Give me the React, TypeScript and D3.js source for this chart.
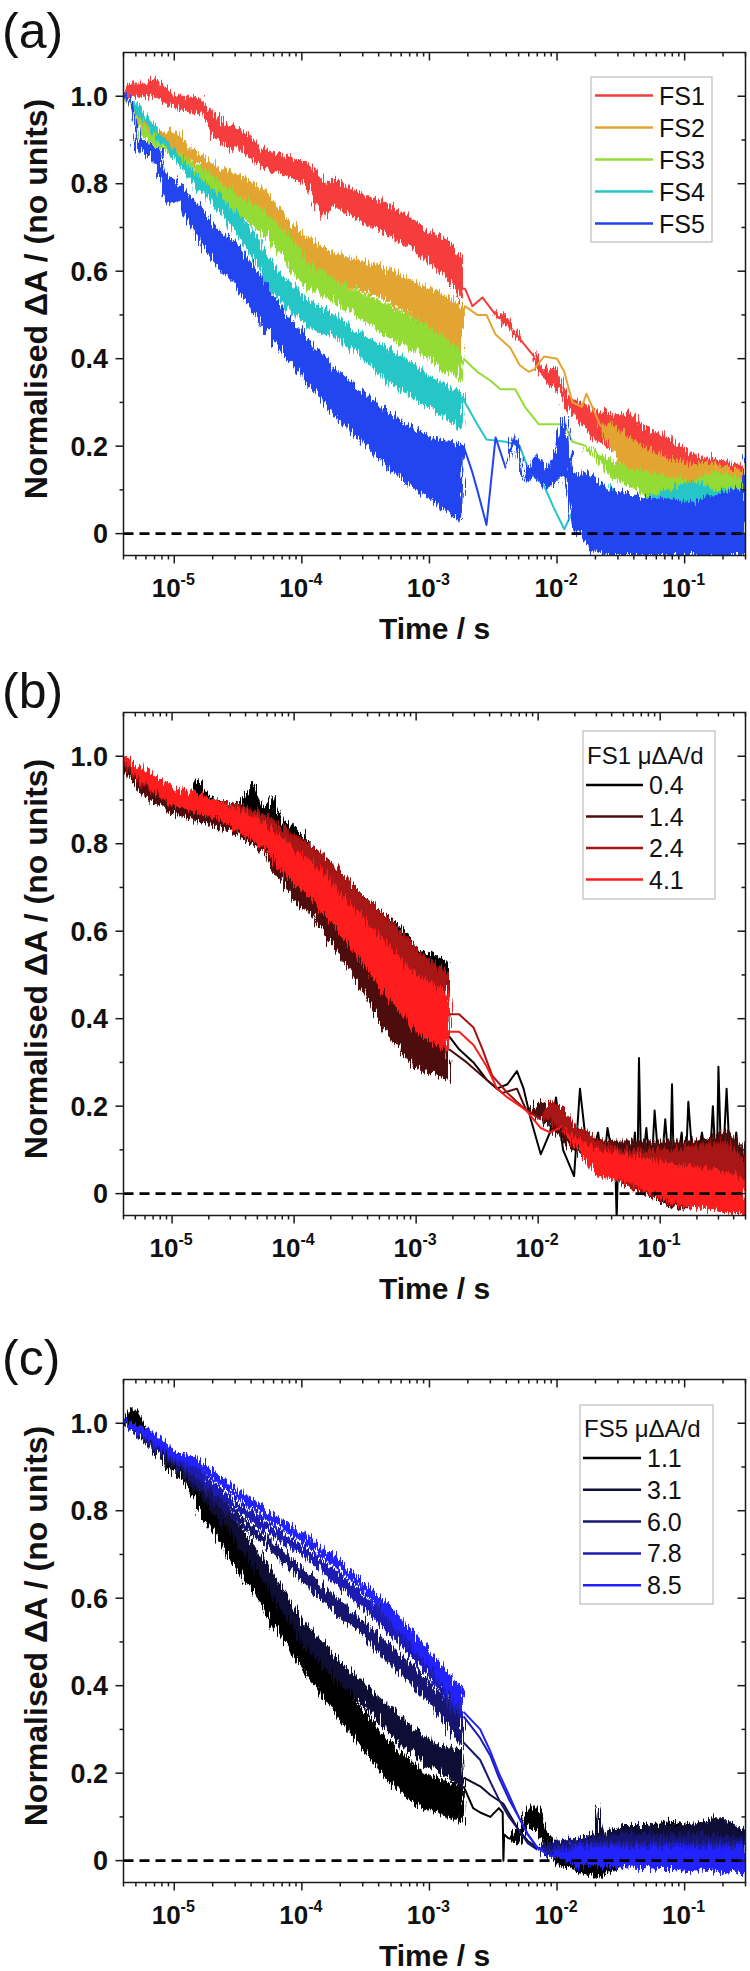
import React from 'react';
import * as d3 from 'd3';

type P = [number, number, number]; // [time (s), low value, high value]

// ---------------- Panel (a) ----------------
const A_NAMES = ['FS1', 'FS2', 'FS3', 'FS4', 'FS5'];
const A_COLORS = ['#f53c3c', '#e2a532', '#94dc36', '#27c6c6', '#2244f0'];
const A_FS1: P[] = [
  [4e-6, 1.0, 1.0], [4.6e-6, 1.0, 1.03], [5.7e-6, 1.0, 1.03], [7.4e-6, 1.0, 1.04], [8.8e-6, 0.98, 1.01],
  [1e-5, 0.98, 1.0], [1.35e-5, 0.96, 1.0], [1.7e-5, 0.96, 0.99], [2.0e-5, 0.91, 0.96], [2.7e-5, 0.88, 0.93],
  [3.2e-5, 0.88, 0.93], [4.9e-5, 0.84, 0.88], [7.6e-5, 0.82, 0.86], [1.07e-4, 0.8, 0.85], [1.5e-4, 0.72, 0.8],
  [1.8e-4, 0.75, 0.81], [2.75e-4, 0.72, 0.78], [4.2e-4, 0.69, 0.76], [6.5e-4, 0.66, 0.73], [1e-3, 0.62, 0.69],
  [1.41e-3, 0.58, 0.67], [1.78e-3, 0.53, 0.63], [1.8e-3, 0.56, 0.56], [1.9e-3, 0.56, 0.56], [2.17e-3, 0.52, 0.52],
  [2.6e-3, 0.54, 0.54], [3.3e-3, 0.5, 0.5], [3.96e-3, 0.48, 0.5], [5.1e-3, 0.44, 0.45], [6.6e-3, 0.4, 0.41],
  [8.6e-3, 0.34, 0.37], [1e-2, 0.33, 0.38], [1.2e-2, 0.29, 0.31], [1.57e-2, 0.25, 0.3], [1.87e-2, 0.22, 0.28],
  [2.2e-2, 0.21, 0.28], [3.1e-2, 0.18, 0.27], [3.7e-2, 0.16, 0.28], [4.8e-2, 0.13, 0.24], [7.4e-2, 0.1, 0.22],
  [0.114, 0.06, 0.18], [0.175, 0.03, 0.17], [0.245, 0.03, 0.16], [0.3, 0.05, 0.15],
];
const A_FS2: P[] = [
  [4e-6, 1.0, 1.0], [4.6e-6, 0.96, 0.99], [5.7e-6, 0.92, 0.95], [7.4e-6, 0.89, 0.92], [1e-5, 0.88, 0.92],
  [1.35e-5, 0.85, 0.88], [1.5e-5, 0.85, 0.87], [2.08e-5, 0.8, 0.84], [3.2e-5, 0.77, 0.82], [4.9e-5, 0.73, 0.79],
  [7.6e-5, 0.65, 0.72], [1.07e-4, 0.62, 0.68], [1.8e-4, 0.58, 0.64], [4.2e-4, 0.54, 0.61], [1e-3, 0.47, 0.56],
  [1.41e-3, 0.44, 0.54], [1.78e-3, 0.42, 0.52], [1.85e-3, 0.51, 0.51], [1.9e-3, 0.52, 0.52], [2.37e-3, 0.5, 0.5],
  [2.8e-3, 0.5, 0.5], [3.3e-3, 0.45, 0.46], [4.3e-3, 0.42, 0.43], [5.1e-3, 0.38, 0.39], [6.0e-3, 0.37, 0.37],
  [6.6e-3, 0.37, 0.38], [7.9e-3, 0.4, 0.41], [1e-2, 0.4, 0.4], [1.14e-2, 0.37, 0.37], [1.32e-2, 0.3, 0.3],
  [1.57e-2, 0.29, 0.29], [1.7e-2, 0.32, 0.32], [2.2e-2, 0.24, 0.25], [2.6e-2, 0.2, 0.25], [3.7e-2, 0.12, 0.22],
  [4.8e-2, 0.1, 0.2], [7.4e-2, 0.06, 0.17], [0.114, 0.05, 0.16], [0.16, 0.07, 0.16], [0.3, 0.04, 0.14],
];
const A_FS3: P[] = [
  [4e-6, 1.0, 1.0], [5.7e-6, 0.91, 0.93], [7.4e-6, 0.88, 0.9], [1e-5, 0.86, 0.88], [1.35e-5, 0.82, 0.85],
  [2.08e-5, 0.77, 0.81], [3.2e-5, 0.73, 0.77], [4.9e-5, 0.69, 0.74], [7.6e-5, 0.62, 0.69], [1e-4, 0.57, 0.63],
  [1.8e-4, 0.53, 0.58], [4.2e-4, 0.46, 0.53], [1e-3, 0.4, 0.47], [1.78e-3, 0.35, 0.42], [1.85e-3, 0.4, 0.4],
  [2.37e-3, 0.37, 0.37], [3.0e-3, 0.35, 0.35], [3.6e-3, 0.33, 0.33], [4.7e-3, 0.33, 0.33], [5.6e-3, 0.29, 0.29],
  [7.2e-3, 0.25, 0.25], [9.4e-3, 0.25, 0.25], [1.14e-2, 0.25, 0.25], [1.32e-2, 0.21, 0.21], [1.7e-2, 0.2, 0.2],
  [2.2e-2, 0.16, 0.18], [2.6e-2, 0.13, 0.17], [3.7e-2, 0.11, 0.15], [5.5e-2, 0.08, 0.14], [7.4e-2, 0.05, 0.13],
  [0.114, 0.03, 0.12], [0.175, 0.02, 0.14], [0.3, 0.0, 0.12],
];
const A_FS4: P[] = [
  [4e-6, 1.0, 1.0], [5.2e-6, 0.96, 0.98], [7.4e-6, 0.9, 0.92], [1e-5, 0.86, 0.88], [1.35e-5, 0.81, 0.83],
  [2.08e-5, 0.75, 0.78], [3.2e-5, 0.68, 0.73], [4.5e-5, 0.62, 0.68], [4.9e-5, 0.58, 0.65], [7.6e-5, 0.52, 0.58],
  [1.15e-4, 0.47, 0.53], [1.8e-4, 0.45, 0.5], [2.75e-4, 0.41, 0.46], [4.2e-4, 0.36, 0.43], [6.5e-4, 0.32, 0.4],
  [1e-3, 0.29, 0.36], [1.78e-3, 0.24, 0.32], [1.85e-3, 0.31, 0.31], [1.9e-3, 0.3, 0.3], [2.17e-3, 0.27, 0.27],
  [2.37e-3, 0.25, 0.25], [2.8e-3, 0.21, 0.22], [3.96e-3, 0.21, 0.21], [5.1e-3, 0.2, 0.2], [6.1e-3, 0.14, 0.14],
  [7.9e-3, 0.11, 0.11], [9.4e-3, 0.06, 0.06], [1.14e-2, 0.01, 0.01], [1.32e-2, 0.05, 0.05], [1.57e-2, 0.1, 0.1],
  [1.87e-2, 0.13, 0.13], [2.2e-2, 0.08, 0.08], [2.6e-2, 0.08, 0.11], [3.1e-2, 0.0, 0.08], [4.8e-2, -0.04, 0.08],
  [7.4e-2, -0.02, 0.1], [0.114, -0.05, 0.12], [0.175, -0.03, 0.1], [0.3, -0.05, 0.1],
];
const A_FS5: P[] = [
  [4e-6, 1.0, 1.0], [4.6e-6, 0.97, 0.99], [5.2e-6, 0.87, 0.9], [5.7e-6, 0.88, 0.9], [7.4e-6, 0.84, 0.88],
  [8.8e-6, 0.75, 0.82], [1.1e-5, 0.76, 0.8], [1.35e-5, 0.7, 0.77], [2.08e-5, 0.62, 0.7], [3.2e-5, 0.56, 0.66],
  [4.9e-5, 0.48, 0.58], [7.6e-5, 0.4, 0.5], [1.15e-4, 0.34, 0.44], [1.8e-4, 0.27, 0.38], [2.75e-4, 0.22, 0.33],
  [4.2e-4, 0.17, 0.29], [6.5e-4, 0.12, 0.25], [1e-3, 0.08, 0.22], [1.5e-3, 0.04, 0.21], [1.78e-3, 0.03, 0.2],
  [1.85e-3, 0.2, 0.2], [2.17e-3, 0.14, 0.14], [2.37e-3, 0.1, 0.1], [2.8e-3, 0.02, 0.02], [3.3e-3, 0.22, 0.22],
  [3.96e-3, 0.15, 0.15], [4.7e-3, 0.21, 0.24], [5.6e-3, 0.12, 0.12], [6.6e-3, 0.13, 0.18], [8.6e-3, 0.1, 0.15],
  [1.14e-2, 0.14, 0.27], [1.32e-2, 0.02, 0.14], [1.87e-2, -0.04, 0.13], [2.6e-2, -0.05, 0.1], [4.8e-2, -0.05, 0.08],
  [7.4e-2, -0.05, 0.08], [0.114, -0.05, 0.07], [0.175, -0.05, 0.09], [0.28, -0.05, 0.1], [0.3, -0.05, 0.2],
];
const A_SERIES = [A_FS1, A_FS2, A_FS3, A_FS4, A_FS5];

// ---------------- Panel (b) ----------------
const B_TITLE = 'FS1 μΔA/d';
const B_NAMES = ['0.4', '1.4', '2.4', '4.1'];
const B_COLORS = ['#000000', '#4e0b0b', '#a81212', '#ff1c1c'];
const B_04: P[] = [
  [4e-6, 0.97, 0.99], [5.8e-6, 0.92, 0.95], [1e-5, 0.88, 0.91], [1.4e-5, 0.88, 0.91], [1.57e-5, 0.88, 0.95],
  [1.9e-5, 0.88, 0.92], [2.25e-5, 0.86, 0.9], [3.5e-5, 0.84, 0.89], [4.6e-5, 0.84, 0.94], [5.6e-5, 0.82, 0.87],
  [6.7e-5, 0.81, 0.91], [8e-5, 0.78, 0.85], [1e-4, 0.74, 0.84], [1.37e-4, 0.71, 0.8], [2.15e-4, 0.65, 0.75],
  [3.4e-4, 0.59, 0.69], [5.3e-4, 0.52, 0.64], [8.3e-4, 0.45, 0.6], [1e-3, 0.43, 0.56], [1.83e-3, 0.37, 0.53],
  [1.86e-3, 0.36, 0.36], [2.25e-3, 0.33, 0.33], [2.95e-3, 0.3, 0.3], [3.8e-3, 0.26, 0.26], [4.6e-3, 0.24, 0.24],
  [5.6e-3, 0.25, 0.25], [6.7e-3, 0.28, 0.28], [7.6e-3, 0.24, 0.24], [8.7e-3, 0.17, 0.17], [1.05e-2, 0.09, 0.09],
  [1.25e-2, 0.14, 0.14], [1.4e-2, 0.22, 0.22], [1.6e-2, 0.1, 0.1], [1.97e-2, 0.04, 0.04], [2.2e-2, 0.24, 0.24],
  [2.6e-2, 0.06, 0.06], [3.1e-2, 0.14, 0.14], [3.4e-2, 0.05, 0.05], [3.7e-2, 0.15, 0.15], [4.3e-2, 0.05, 0.05],
  [4.4e-2, -0.06, -0.06], [4.5e-2, 0.06, 0.06], [5.2e-2, 0.1, 0.1], [5.8e-2, 0.03, 0.03], [6.2e-2, 0.14, 0.14],
  [6.5e-2, 0.03, 0.03], [6.7e-2, 0.31, 0.31], [7.0e-2, 0.04, 0.04], [7.7e-2, 0.15, 0.15], [8.4e-2, 0.03, 0.03],
  [9.0e-2, 0.19, 0.19], [0.1, 0.02, 0.02], [0.11, 0.17, 0.17], [0.12, 0.03, 0.03], [0.125, 0.25, 0.25],
  [0.13, 0.02, 0.02], [0.15, 0.14, 0.14], [0.16, 0.02, 0.02], [0.17, 0.21, 0.21], [0.19, 0.03, 0.03],
  [0.22, 0.14, 0.14], [0.25, 0.02, 0.02], [0.27, 0.2, 0.2], [0.29, 0.03, 0.03], [0.3, 0.29, 0.29],
  [0.32, 0.02, 0.02], [0.35, 0.24, 0.24], [0.38, 0.02, 0.02], [0.42, 0.14, 0.14], [0.46, 0.01, 0.01],
  [0.5, 0.12, 0.12],
];
const B_14: P[] = [
  [4e-6, 0.97, 1.0], [5.8e-6, 0.91, 0.95], [1e-5, 0.87, 0.91], [2.25e-5, 0.84, 0.88], [3.5e-5, 0.82, 0.87],
  [5.6e-5, 0.78, 0.84], [1e-4, 0.67, 0.77], [1.37e-4, 0.64, 0.74], [2.15e-4, 0.56, 0.67], [3.4e-4, 0.48, 0.6],
  [5.3e-4, 0.38, 0.5], [8.3e-4, 0.31, 0.45], [1e-3, 0.29, 0.43], [1.83e-3, 0.26, 0.4], [1.86e-3, 0.33, 0.33],
  [2.6e-3, 0.3, 0.3], [3.8e-3, 0.26, 0.26], [5.1e-3, 0.23, 0.23], [6.7e-3, 0.24, 0.24], [8e-3, 0.19, 0.19],
  [1.05e-2, 0.17, 0.21], [1.4e-2, 0.14, 0.2], [1.97e-2, 0.1, 0.14], [3.1e-2, 0.05, 0.12], [4.9e-2, 0.03, 0.12],
  [7.7e-2, 0.0, 0.12], [0.12, -0.03, 0.12], [0.2, -0.03, 0.12], [0.35, -0.04, 0.14], [0.5, -0.05, 0.1],
];
const B_24: P[] = [
  [4e-6, 0.98, 1.0], [5.8e-6, 0.93, 0.97], [1e-5, 0.89, 0.92], [2.25e-5, 0.86, 0.9], [3.5e-5, 0.84, 0.89],
  [5.6e-5, 0.81, 0.87], [1e-4, 0.74, 0.82], [1.37e-4, 0.72, 0.8], [2.15e-4, 0.66, 0.75], [3.4e-4, 0.6, 0.69],
  [5.3e-4, 0.54, 0.64], [8.3e-4, 0.49, 0.59], [1e-3, 0.46, 0.56], [1.83e-3, 0.4, 0.5], [1.86e-3, 0.41, 0.41],
  [2.25e-3, 0.41, 0.41], [2.95e-3, 0.38, 0.38], [3.5e-3, 0.33, 0.33], [4.2e-3, 0.27, 0.27], [5.6e-3, 0.23, 0.23],
  [8e-3, 0.19, 0.19], [1.05e-2, 0.17, 0.17], [1.25e-2, 0.17, 0.21], [1.5e-2, 0.15, 0.2], [1.97e-2, 0.12, 0.16],
  [3.1e-2, 0.06, 0.12], [4.9e-2, 0.02, 0.1], [7.7e-2, 0.0, 0.1], [0.12, -0.02, 0.1], [0.2, -0.03, 0.11],
  [0.35, -0.04, 0.12], [0.5, -0.05, 0.08],
];
const B_41: P[] = [
  [4e-6, 0.99, 1.0], [5.8e-6, 0.94, 0.97], [1e-5, 0.89, 0.93], [2.25e-5, 0.86, 0.9], [3.5e-5, 0.83, 0.88],
  [5.6e-5, 0.79, 0.85], [1e-4, 0.71, 0.79], [1.37e-4, 0.68, 0.76], [2.15e-4, 0.61, 0.7], [3.4e-4, 0.54, 0.64],
  [5.3e-4, 0.46, 0.58], [8.3e-4, 0.4, 0.52], [1e-3, 0.37, 0.5], [1.83e-3, 0.32, 0.46], [1.86e-3, 0.37, 0.37],
  [2.25e-3, 0.37, 0.37], [2.95e-3, 0.34, 0.34], [3.8e-3, 0.29, 0.29], [4.6e-3, 0.24, 0.24], [5.6e-3, 0.22, 0.22],
  [8e-3, 0.19, 0.19], [1.05e-2, 0.15, 0.15], [1.25e-2, 0.14, 0.14], [1.5e-2, 0.15, 0.15], [1.97e-2, 0.11, 0.13],
  [3.1e-2, 0.04, 0.1], [4.9e-2, 0.03, 0.09], [7.7e-2, 0.01, 0.08], [0.12, -0.02, 0.07], [0.2, -0.03, 0.06],
  [0.35, -0.04, 0.05], [0.5, -0.05, 0.03],
];
const B_SERIES = [B_04, B_14, B_24, B_41];

// ---------------- Panel (c) ----------------
const C_TITLE = 'FS5 μΔA/d';
const C_NAMES = ['1.1', '3.1', '6.0', '7.8', '8.5'];
const C_COLORS = ['#000000', '#0c0c34', '#17176f', '#1e1eb2', '#2121ff'];
const C_11: P[] = [
  [4e-6, 0.99, 1.0], [4.6e-6, 1.0, 1.03], [5.0e-6, 0.99, 1.03], [6.2e-6, 0.96, 0.98], [8.1e-6, 0.92, 0.94],
  [9.2e-6, 0.89, 0.94], [1e-5, 0.89, 0.93], [1.47e-5, 0.83, 0.88], [1.6e-5, 0.79, 0.86], [2.25e-5, 0.73, 0.8],
  [3.5e-5, 0.64, 0.72], [4.5e-5, 0.6, 0.67], [5.3e-5, 0.56, 0.66], [8.2e-5, 0.48, 0.56], [1e-4, 0.44, 0.53],
  [1.9e-4, 0.33, 0.42], [2.95e-4, 0.26, 0.35], [4.5e-4, 0.19, 0.28], [7e-4, 0.14, 0.23], [1.07e-3, 0.11, 0.19],
  [1.8e-3, 0.09, 0.17], [1.85e-3, 0.17, 0.17], [2.2e-3, 0.12, 0.12], [2.5e-3, 0.11, 0.11], [3.0e-3, 0.1, 0.1],
  [3.5e-3, 0.12, 0.12], [3.75e-3, 0.11, 0.11], [3.8e-3, 0.0, 0.0], [3.85e-3, 0.06, 0.06], [4.2e-3, 0.05, 0.05],
  [5e-3, 0.04, 0.07], [5.9e-3, 0.08, 0.12], [7e-3, 0.07, 0.12], [8.3e-3, 0.03, 0.07], [9.9e-3, -0.01, 0.04],
  [1.4e-2, -0.02, 0.04], [2.1e-2, -0.04, 0.04], [3.3e-2, -0.01, 0.07], [5e-2, -0.01, 0.08], [7.7e-2, -0.01, 0.09],
  [0.12, -0.02, 0.08], [0.18, -0.02, 0.07], [0.3, -0.02, 0.05],
];
const C_31: P[] = [
  [4e-6, 1.0, 1.01], [6.2e-6, 0.95, 0.97], [1e-5, 0.89, 0.91], [1.47e-5, 0.85, 0.88], [2.25e-5, 0.78, 0.82],
  [3.5e-5, 0.71, 0.75], [5.3e-5, 0.63, 0.68], [8.2e-5, 0.54, 0.59], [1e-4, 0.5, 0.55], [1.9e-4, 0.41, 0.46],
  [2.95e-4, 0.36, 0.41], [4.5e-4, 0.3, 0.36], [7e-4, 0.25, 0.31], [1.07e-3, 0.21, 0.27], [1.8e-3, 0.17, 0.25],
  [1.85e-3, 0.19, 0.19], [2.5e-3, 0.17, 0.17], [3e-3, 0.15, 0.15], [3.8e-3, 0.13, 0.13], [5e-3, 0.07, 0.07],
  [5.9e-3, 0.045, 0.045], [7e-3, 0.03, 0.03], [8.3e-3, 0.02, 0.04], [1.4e-2, 0.02, 0.05], [2.0e-2, 0.02, 0.06],
  [2.1e-2, 0.02, 0.13], [2.3e-2, 0.02, 0.06], [3.3e-2, 0.02, 0.08], [5e-2, 0.01, 0.08], [7.7e-2, 0.01, 0.08],
  [0.12, 0.0, 0.08], [0.18, 0.0, 0.1], [0.3, 0.0, 0.07],
];
const C_60: P[] = [
  [4e-6, 1.0, 1.0], [6.2e-6, 0.955, 0.975], [1e-5, 0.9, 0.92], [1.47e-5, 0.86, 0.88], [2.25e-5, 0.81, 0.83],
  [3.5e-5, 0.76, 0.78], [5.3e-5, 0.72, 0.74], [1e-4, 0.64, 0.67], [1.9e-4, 0.56, 0.6], [2.95e-4, 0.52, 0.55],
  [4.5e-4, 0.46, 0.5], [7e-4, 0.41, 0.45], [1.07e-3, 0.35, 0.4], [1.8e-3, 0.26, 0.32], [1.85e-3, 0.27, 0.27],
  [2.5e-3, 0.23, 0.23], [3.0e-3, 0.18, 0.18], [3.5e-3, 0.14, 0.14], [4.2e-3, 0.1, 0.1], [5e-3, 0.07, 0.07],
  [5.9e-3, 0.04, 0.04], [7e-3, 0.025, 0.025], [8.3e-3, 0.01, 0.04], [1.4e-2, 0.01, 0.05], [3.3e-2, 0.01, 0.06],
  [0.12, 0.0, 0.06], [0.3, 0.0, 0.05],
];
const C_78: P[] = [
  [4e-6, 1.0, 1.0], [6.2e-6, 0.96, 0.98], [1e-5, 0.91, 0.93], [1.47e-5, 0.88, 0.9], [2.25e-5, 0.83, 0.85],
  [3.5e-5, 0.79, 0.81], [5.3e-5, 0.75, 0.77], [1e-4, 0.7, 0.72], [1.9e-4, 0.63, 0.66], [2.95e-4, 0.58, 0.61],
  [4.5e-4, 0.53, 0.56], [7e-4, 0.47, 0.51], [1.07e-3, 0.41, 0.45], [1.8e-3, 0.32, 0.37], [1.85e-3, 0.33, 0.33],
  [2.5e-3, 0.28, 0.28], [3.0e-3, 0.24, 0.24], [3.5e-3, 0.19, 0.19], [4.2e-3, 0.14, 0.14], [5e-3, 0.1, 0.1],
  [5.9e-3, 0.06, 0.06], [7e-3, 0.03, 0.03], [8.3e-3, 0.025, 0.025], [1.4e-2, 0.0, 0.04], [0.12, 0.0, 0.04],
  [0.3, -0.01, 0.04],
];
const C_85: P[] = [
  [4e-6, 1.0, 1.01], [6.2e-6, 0.965, 0.985], [1e-5, 0.92, 0.94], [1.47e-5, 0.9, 0.92], [2.25e-5, 0.86, 0.88],
  [3.5e-5, 0.82, 0.84], [5.3e-5, 0.78, 0.8], [1e-4, 0.73, 0.75], [1.9e-4, 0.67, 0.69], [2.95e-4, 0.62, 0.64],
  [4.5e-4, 0.56, 0.59], [7e-4, 0.5, 0.53], [1.07e-3, 0.43, 0.47], [1.8e-3, 0.34, 0.39], [1.85e-3, 0.34, 0.34],
  [2.5e-3, 0.3, 0.3], [3.0e-3, 0.25, 0.25], [3.5e-3, 0.2, 0.2], [4.2e-3, 0.15, 0.15], [5e-3, 0.1, 0.1],
  [5.9e-3, 0.06, 0.06], [7e-3, 0.03, 0.03], [8.3e-3, 0.015, 0.015], [1.4e-2, -0.01, 0.03], [0.12, -0.02, 0.03],
  [0.3, -0.03, 0.03],
];
const C_SERIES = [C_11, C_31, C_60, C_78, C_85];

// ---------------- Axes ----------------
const Y_MAJOR = [0, 0.2, 0.4, 0.6, 0.8, 1.0];
const Y_MINOR = [0.1, 0.3, 0.5, 0.7, 0.9];
const X_MIN = 4e-6;
const X_TITLE = 'Time / s';
const Y_TITLE = 'Normalised ΔA / (no units)';

const FONT = '"Liberation Sans", Arial, Helvetica, sans-serif';
const LEFT = 123.5;
const RIGHT = 745.5;
const PH = 503;
const BAND_MIN = 0.015;

interface LegendCfg {
  x: number; y: number; w: number; h: number;
  title: string | null; titleY: number; rowY: number; rowGap: number;
  lineX0: number; lineX1: number; textX: number;
}
interface PanelCfg {
  tag: string; top: number; xmax: number;
  series: P[][]; names: string[]; colors: string[];
  legend: LegendCfg;
}

const PANELS: PanelCfg[] = [
  {
    tag: '(a)', top: 52.5, xmax: 0.3, series: A_SERIES, names: A_NAMES, colors: A_COLORS,
    legend: { x: 591, y: 77, w: 121, h: 165, title: null, titleY: 0, rowY: 95.5, rowGap: 32, lineX0: 595, lineX1: 653, textX: 659 },
  },
  {
    tag: '(b)', top: 712.5, xmax: 0.5, series: B_SERIES, names: B_NAMES, colors: B_COLORS,
    legend: { x: 583, y: 731, w: 132, h: 168, title: B_TITLE, titleY: 755, rowY: 785, rowGap: 31.5, lineX0: 586, lineX1: 643, textX: 649 },
  },
  {
    tag: '(c)', top: 1379.5, xmax: 0.3, series: C_SERIES, names: C_NAMES, colors: C_COLORS,
    legend: { x: 580, y: 1405, w: 133, h: 199, title: C_TITLE, titleY: 1428, rowY: 1458, rowGap: 31.8, lineX0: 583, lineX1: 641, textX: 647 },
  },
];

// split a series into consecutive runs of "band" (noisy envelope) and "line" segments
function splitRuns(s: P[]): { band: boolean; pts: P[] }[] {
  const runs: { band: boolean; pts: P[] }[] = [];
  for (let i = 0; i < s.length - 1; i++) {
    const band = Math.max(s[i][2] - s[i][1], s[i + 1][2] - s[i + 1][1]) >= BAND_MIN;
    const last = runs[runs.length - 1];
    if (last && last.band === band) last.pts.push(s[i + 1]);
    else runs.push({ band, pts: [s[i], s[i + 1]] });
  }
  return runs;
}

function Panel({ cfg, idx }: { cfg: PanelCfg; idx: number }) {
  const top = cfg.top;
  const bottom = top + PH;
  const x = d3.scaleLog().domain([X_MIN, cfg.xmax]).range([LEFT, RIGHT]);
  const y = d3.scaleLinear().domain([-0.05, 1.1]).range([bottom, top]);
  const area = d3.area<P>().x((d) => x(d[0])).y0((d) => y(d[1])).y1((d) => y(d[2]));
  const mid = d3.line<P>().x((d) => x(d[0])).y((d) => y((d[1] + d[2]) / 2));
  const xticks = x.ticks();
  const isMajor = (t: number) => Math.abs(Math.log10(t) - Math.round(Math.log10(t))) < 1e-6;
  const clipId = `clip-${idx}`;
  const lg = cfg.legend;
  const axisColor = '#1a1a1a';
  return (
    <g>
      <defs>
        <clipPath id={clipId}>
          <rect x={LEFT} y={top} width={RIGHT - LEFT} height={PH} />
        </clipPath>
      </defs>
      <text x={2} y={top - 5} fontSize={50} fontFamily={FONT} fill="#111">{cfg.tag}</text>
      <g clipPath={`url(#${clipId})`}>
        {cfg.series.map((s, i) => (
          <g key={i}>
            {splitRuns(s).map((r, j) =>
              r.band ? (
                <path
                  key={j}
                  d={area(r.pts) || ''}
                  fill={cfg.colors[i]}
                  stroke={cfg.colors[i]}
                  strokeWidth={1.2}
                  strokeLinejoin="round"
                  filter="url(#rough)"
                />
              ) : (
                <path
                  key={j}
                  d={mid(r.pts) || ''}
                  fill="none"
                  stroke={cfg.colors[i]}
                  strokeWidth={2}
                  strokeLinejoin="round"
                />
              )
            )}
          </g>
        ))}
        <line x1={LEFT} x2={RIGHT} y1={y(0)} y2={y(0)} stroke="#000" strokeWidth={2.6} strokeDasharray="10,6" />
      </g>
      {/* frame */}
      <rect x={LEFT} y={top} width={RIGHT - LEFT} height={PH} fill="none" stroke={axisColor} strokeWidth={1.5} />
      {/* x ticks */}
      {xticks.map((t, i) => {
        const xx = x(t);
        const len = isMajor(t) ? 8 : 4;
        return (
          <g key={i}>
            <line x1={xx} x2={xx} y1={bottom} y2={bottom + len} stroke={axisColor} strokeWidth={1.5} />
            <line x1={xx} x2={xx} y1={top} y2={top + len} stroke={axisColor} strokeWidth={1.5} />
          </g>
        );
      })}
      {xticks.filter(isMajor).map((t, i) => {
        const e = Math.round(Math.log10(t));
        return (
          <text key={i} x={x(t) - 1} y={bottom + 41} textAnchor="middle" fontSize={26} fontWeight="bold" fontFamily={FONT} fill="#111">
            10<tspan dy={-12} fontSize={16}>{`-${-e}`}</tspan>
          </text>
        );
      })}
      {/* y ticks */}
      {Y_MAJOR.map((v, i) => (
        <g key={i}>
          <line x1={LEFT - 8} x2={LEFT} y1={y(v)} y2={y(v)} stroke={axisColor} strokeWidth={1.5} />
          <line x1={RIGHT - 8} x2={RIGHT} y1={y(v)} y2={y(v)} stroke={axisColor} strokeWidth={1.5} />
          <text x={108} y={y(v)} dy="0.36em" textAnchor="end" fontSize={27} fontWeight="bold" fontFamily={FONT} fill="#111">
            {v === 0 ? '0' : v.toFixed(1)}
          </text>
        </g>
      ))}
      {Y_MINOR.map((v, i) => (
        <g key={i}>
          <line x1={LEFT - 4} x2={LEFT} y1={y(v)} y2={y(v)} stroke={axisColor} strokeWidth={1.5} />
          <line x1={RIGHT - 4} x2={RIGHT} y1={y(v)} y2={y(v)} stroke={axisColor} strokeWidth={1.5} />
        </g>
      ))}
      {/* axis titles */}
      <text x={(LEFT + RIGHT) / 2} y={bottom + 83} textAnchor="middle" fontSize={30} fontWeight="bold" fontFamily={FONT} fill="#111">
        {X_TITLE}
      </text>
      <text transform={`translate(47,${(top + bottom) / 2 - 5}) rotate(-90)`} textAnchor="middle" fontSize={32} fontWeight="bold" fontFamily={FONT} fill="#111">
        {Y_TITLE}
      </text>
      {/* legend */}
      <rect x={lg.x} y={lg.y} width={lg.w} height={lg.h} fill="#fff" stroke="#bdbdbd" strokeWidth={1.2} />
      {lg.title && (
        <text x={lg.x + 4} y={lg.titleY} dy="0.36em" fontSize={24} fontFamily={FONT} fill="#111">{lg.title}</text>
      )}
      {cfg.names.map((n, i) => {
        const yy = lg.rowY + i * lg.rowGap;
        return (
          <g key={i}>
            <line x1={lg.lineX0} x2={lg.lineX1} y1={yy} y2={yy} stroke={cfg.colors[i]} strokeWidth={2.5} />
            <text x={lg.textX} y={yy} dy="0.36em" fontSize={25} fontFamily={FONT} fill="#111">{n}</text>
          </g>
        );
      })}
    </g>
  );
}

export default function App() {
  return (
    <div style={{ position: 'absolute', left: 0, top: 0, width: 750, height: 1971, background: '#fff' }}>
      <svg width={750} height={1971} viewBox="0 0 750 1971" style={{ display: 'block' }}>
        <defs>
          <filter id="rough" filterUnits="userSpaceOnUse" x={0} y={0} width={750} height={1971}>
            <feTurbulence type="fractalNoise" baseFrequency="0.6 0.05" numOctaves={2} seed={4} result="noise" />
            <feDisplacementMap in="SourceGraphic" in2="noise" scale={16} xChannelSelector="R" yChannelSelector="G" />
          </filter>
        </defs>
        <rect x={0} y={0} width={750} height={1971} fill="#fff" />
        {PANELS.map((p, i) => (
          <Panel key={i} cfg={p} idx={i} />
        ))}
      </svg>
    </div>
  );
}
